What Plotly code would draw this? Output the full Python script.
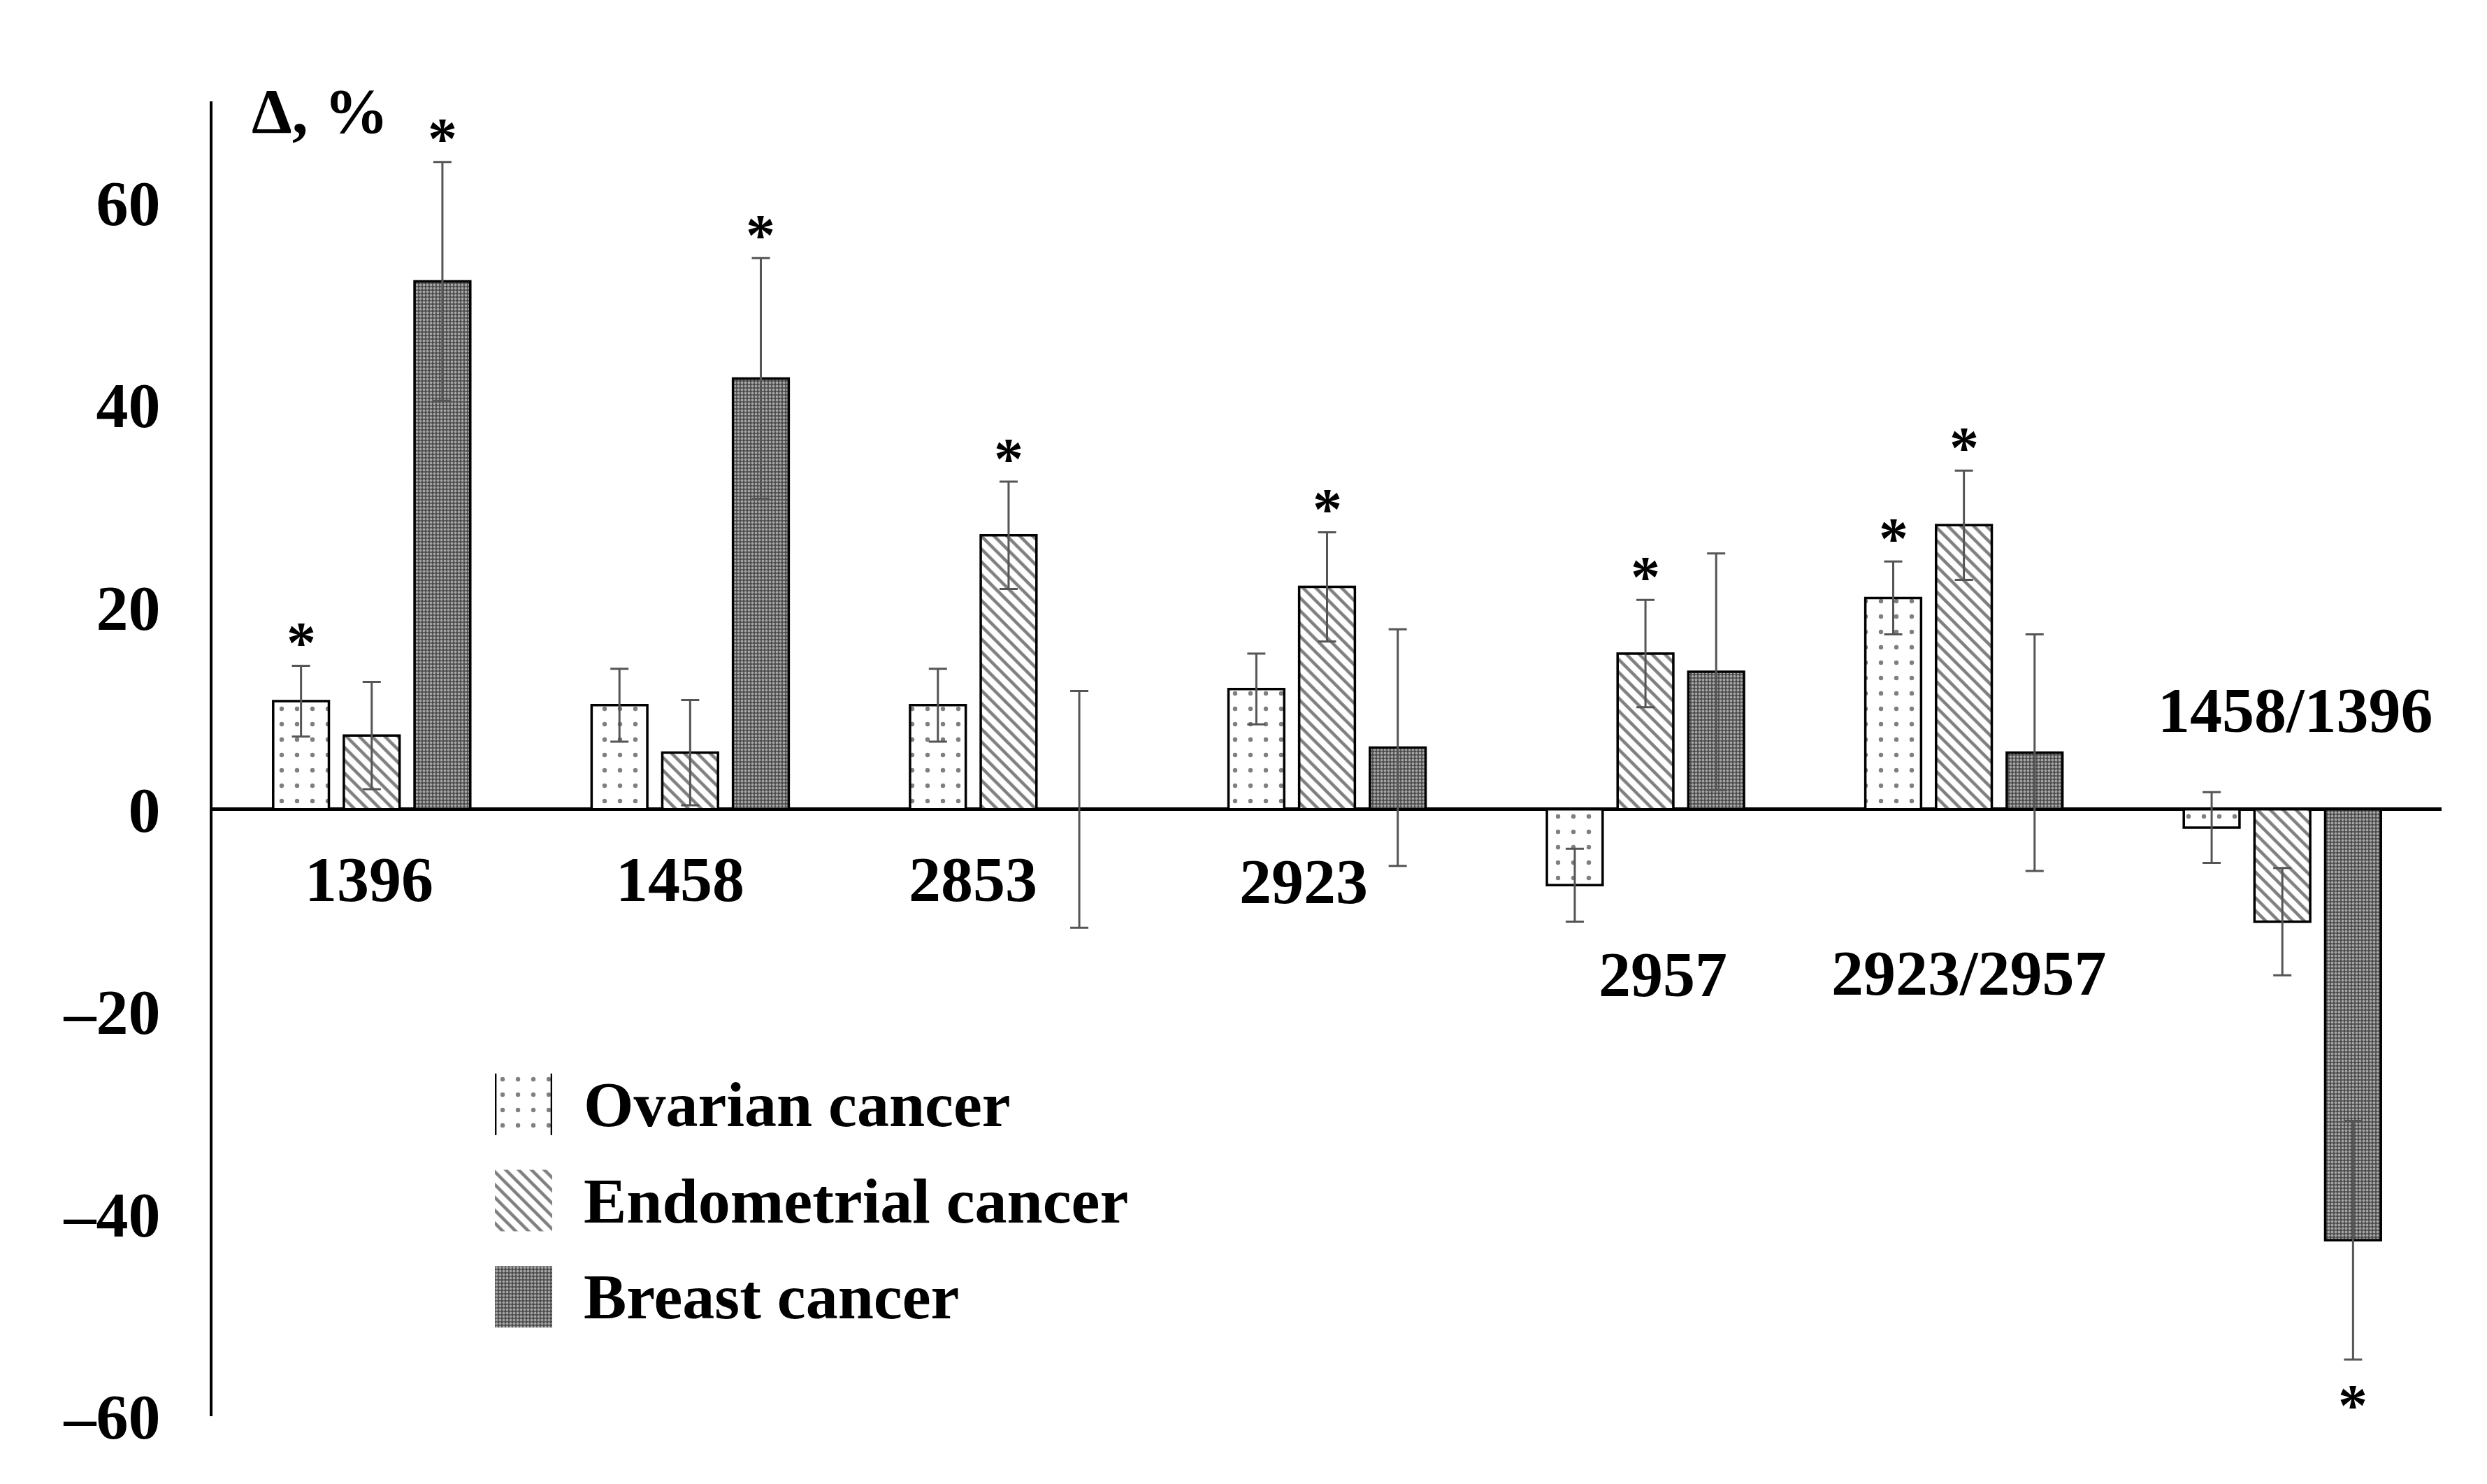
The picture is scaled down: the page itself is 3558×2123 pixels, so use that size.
import numpy as np
import plotly.graph_objects as go

# ---------------- data ----------------
categories = ["1396", "1458", "2853", "2923", "2957", "2923/2957", "1458/1396"]
series_names = ["Ovarian cancer", "Endometrial cancer", "Breast cancer"]

ovarian = [10.7, 10.3, 10.3, 11.9, -7.5, 20.9, -1.8]
ovarian_err = [3.5, 3.6, 3.6, 3.5, 3.6, 3.6, 3.5]
ovarian_sig = [1, 0, 0, 0, 0, 1, 0]

endometrial = [7.3, 5.6, 27.1, 22.0, 15.4, 28.1, -11.1]
endometrial_err = [5.3, 5.2, 5.3, 5.4, 5.3, 5.4, 5.3]
endometrial_sig = [0, 0, 1, 1, 1, 1, 0]

breast = [52.2, 42.6, 0.0, 6.1, 13.6, 5.6, -42.6]
breast_err = [11.8, 11.9, 11.7, 11.7, 11.7, 11.7, 11.8]
breast_sig = [1, 1, 0, 0, 0, 0, 1]

y_tickvals = [-60, -40, -20, 0, 20, 40, 60]
y_ticktext = ["\u201360", "\u201340", "\u201320", "0", "20", "40", "60"]
y_title = "\u0394, %"

# ---------------- style ----------------
W, H = 3558, 2123
ML, MR, MT, MB = 304, 65, 145, 97
FONT = "Liberation Serif, Times New Roman, serif"
FS = 92
BAR_SHIFT = [-0.222, 0.0, 0.222]
BAR_W = 0.175
# label placement (offset from group centre, y position in data units)
LABEL_DX = [-0.008, -0.031, -0.111, -0.074, 0.055, 0.016, 0.042]
LABEL_Y = [-6.9, -6.9, -6.9, -7.1, -16.3, -16.2, 9.8]

patterns = [
    dict(shape=".", fgcolor="black", bgcolor="white", size=22, solidity=0.066),
    dict(shape="\\", fgcolor="black", bgcolor="white", size=13, solidity=0.35),
    dict(shape=".", fgcolor="white", bgcolor="#4a4a4a", size=5, solidity=0.45),
]

values = [ovarian, endometrial, breast]
errors = [ovarian_err, endometrial_err, breast_err]
sigs = [ovarian_sig, endometrial_sig, breast_sig]

idx = np.arange(len(categories))

fig = go.Figure()
for j, name in enumerate(series_names):
    fig.add_trace(go.Bar(
        x=idx + BAR_SHIFT[j], y=values[j], width=BAR_W, name=name,
        marker=dict(color="white", pattern=patterns[j],
                    line=dict(color="black", width=3.5)),
        error_y=dict(type="data", array=errors[j], color="#555555",
                     thickness=3, width=13),
        showlegend=False, hoverinfo="skip",
    ))

# legend patches drawn as bars on a small auxiliary axis pair
LEG_W = 0.64
for j, name in enumerate(series_names):
    fig.add_trace(go.Bar(
        orientation="h", y=[name], x=[1], width=LEG_W,
        xaxis="x2", yaxis="y2",
        marker=dict(color="white", pattern=patterns[j], line=dict(width=0)),
        showlegend=False, hoverinfo="skip",
    ))

# side borders of the ovarian legend patch
shapes = [
    dict(type="line", xref="x2", yref="y2", x0=xe, x1=xe,
         y0=-LEG_W / 2, y1=LEG_W / 2, line=dict(color="black", width=3))
    for xe in (0.01, 0.99)
]

annotations = []
# category labels
for i, c in enumerate(categories):
    annotations.append(dict(
        x=i + LABEL_DX[i], y=LABEL_Y[i], xref="x", yref="y", text=c,
        showarrow=False, xanchor="center", yanchor="middle",
        font=dict(family=FONT, size=FS, color="black", weight="bold")))
# significance asterisks
for j in range(3):
    for i in range(len(categories)):
        if sigs[j][i]:
            v = values[j][i]
            e = errors[j][i]
            up = v >= 0
            annotations.append(dict(
                x=i + BAR_SHIFT[j], y=v + e if up else v - e,
                xref="x", yref="y", text="*", showarrow=False,
                xanchor="center", yanchor="middle",
                yshift=33 if up else -66,
                font=dict(family=FONT, size=84, color="black", weight="bold")))
# y-axis title
annotations.append(dict(
    x=-0.162, y=69.0, xref="x", yref="y", text=y_title, showarrow=False,
    xanchor="center", yanchor="middle",
    font=dict(family=FONT, size=FS, color="black", weight="bold")))
# legend texts
for j, name in enumerate(series_names):
    annotations.append(dict(
        x=0.1659, y=j, xref="paper", yref="y2", text=name, showarrow=False,
        xanchor="left", yanchor="middle",
        font=dict(family=FONT, size=FS, color="black", weight="bold")))

fig.update_layout(
    width=W, height=H,
    margin=dict(l=ML, r=MR, t=MT, b=MB, pad=0),
    paper_bgcolor="white", plot_bgcolor="white",
    barmode="overlay",
    font=dict(family=FONT, size=FS, color="black"),
    xaxis=dict(range=[-0.5, 6.5], showgrid=False, zeroline=False,
               showline=False, showticklabels=False, ticks=""),
    yaxis=dict(range=[-60, 70], tickvals=y_tickvals, ticktext=y_ticktext,
               showgrid=False, zeroline=True, zerolinecolor="black",
               zerolinewidth=5, showline=True, linecolor="black", linewidth=4,
               ticks="", ticklabelstandoff=52,
               tickfont=dict(family=FONT, size=FS, color="black", weight="bold")),
    xaxis2=dict(domain=[0.1267, 0.1524], range=[0, 1], anchor="y2",
                visible=False),
    yaxis2=dict(domain=[0.0542, 0.2738], type="category",
                categoryarray=series_names, range=[2.5, -0.5],
                anchor="x2", visible=False),
    shapes=shapes,
    annotations=annotations,
)

fig.write_html("out.html", config={"displayModeBar": False},
               post_script="document.body.style.margin='0';document.body.style.overflow='hidden';")
